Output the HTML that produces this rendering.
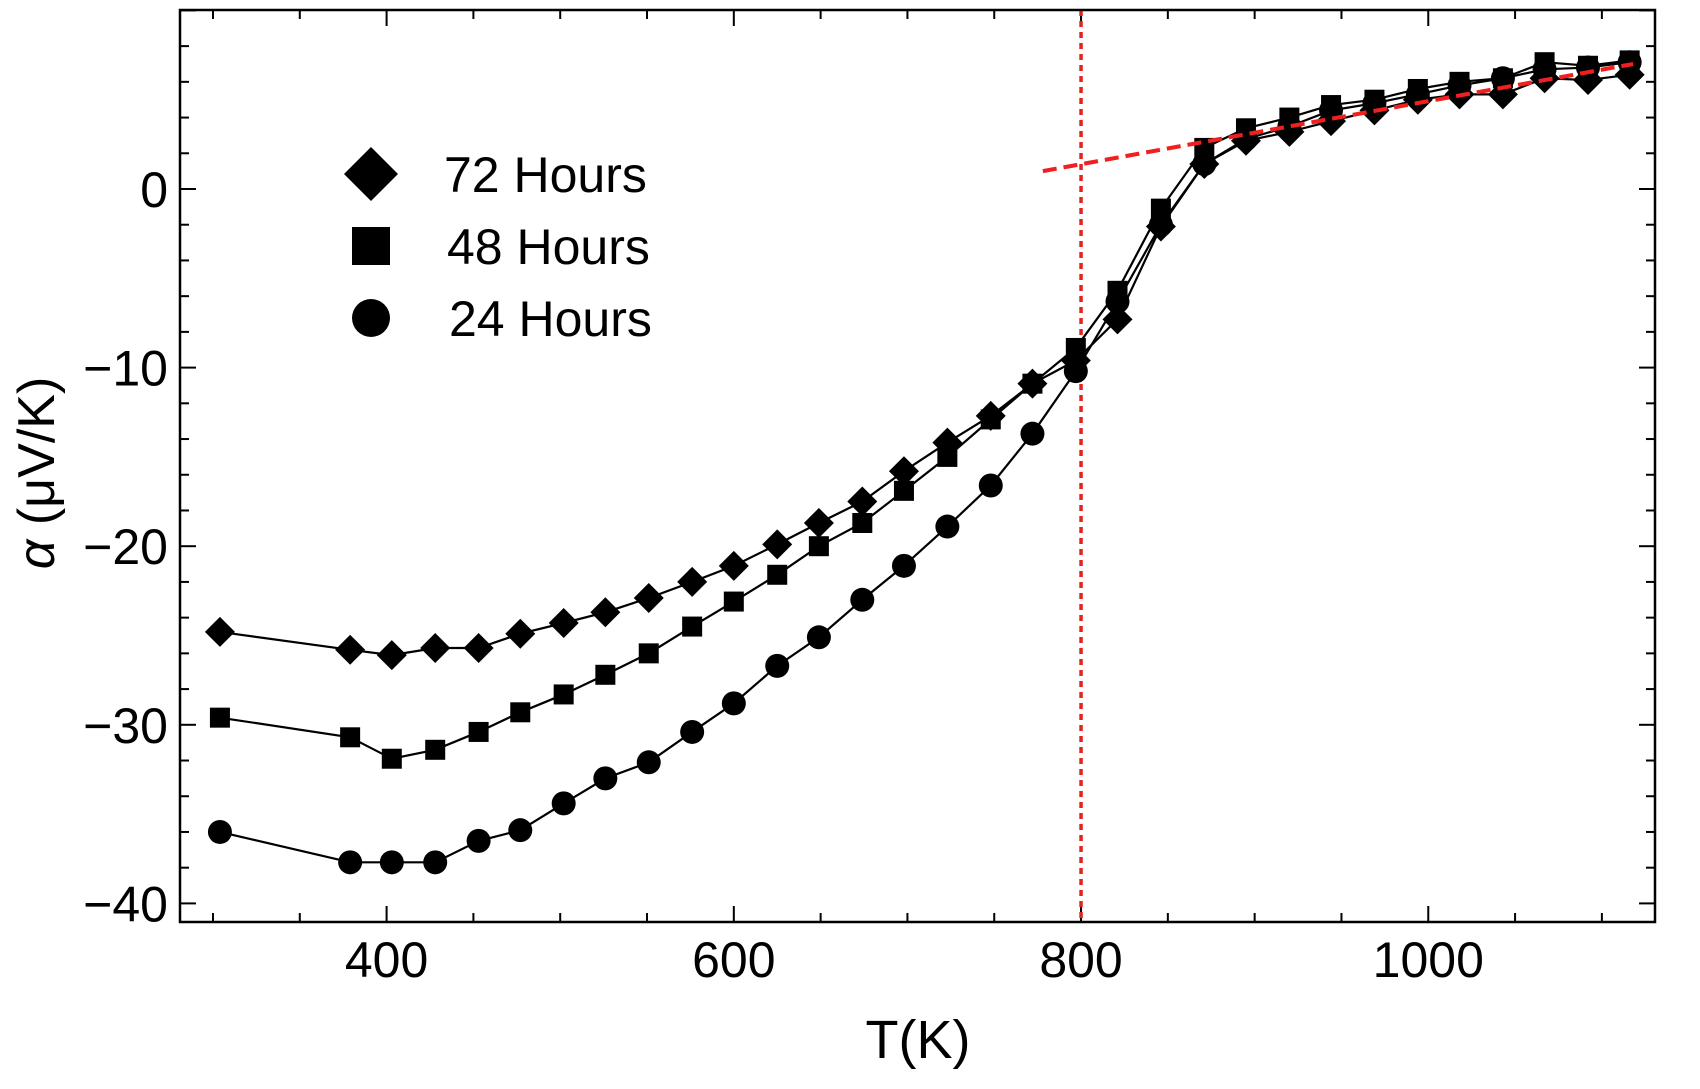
<!DOCTYPE html>
<html><head><meta charset="utf-8"><style>
html,body{margin:0;padding:0;background:#fff;}
svg{display:block;font-family:"Liberation Sans",sans-serif;}
</style></head><body>
<svg id="chart" width="1700" height="1089" viewBox="0 0 1700 1089" xmlns="http://www.w3.org/2000/svg">
<g id="grid-ticks"></g>
<g id="refs"></g>
<g id="series"></g>
<rect x="180" y="10" width="1475" height="912" fill="none" stroke="#000" stroke-width="2.5"/>
<g id="labels" font-size="50"></g>
<text x="918" y="1058" font-size="54" text-anchor="middle">T(K)</text>
<text transform="translate(54,473) rotate(-90)" font-size="52" text-anchor="middle"><tspan font-style="italic">α</tspan> (μV/K)</text>
<g id="legend" font-size="50"></g>
</svg>
<script>
const temps = [304,379,403,428,453,477,502,526,551,576,600,625,649,674,698,723,748,772,797,821,846,871,895,920,944,969,994,1018,1043,1067,1092,1116];
const h72 = [-24.8,-25.8,-26.1,-25.7,-25.7,-24.9,-24.3,-23.7,-22.9,-22.0,-21.1,-19.9,-18.7,-17.5,-15.8,-14.2,-12.7,-10.9,-9.6,-7.3,-2.1,1.4,2.7,3.2,3.8,4.4,5.0,5.3,5.3,6.2,6.1,6.4];
const h48 = [-29.6,-30.7,-31.9,-31.4,-30.4,-29.3,-28.3,-27.2,-26.0,-24.5,-23.1,-21.6,-20.0,-18.7,-16.9,-15.0,-12.9,-10.9,-8.9,-5.7,-1.1,2.3,3.4,4.0,4.7,5.0,5.6,6.0,6.2,7.1,6.9,7.2];
const h24 = [-36.0,-37.7,-37.7,-37.7,-36.5,-35.9,-34.4,-33.0,-32.1,-30.4,-28.8,-26.7,-25.1,-23.0,-21.1,-18.9,-16.6,-13.7,-10.2,-6.3,-2.0,1.4,2.8,3.5,4.4,4.8,5.3,5.8,6.2,6.7,6.8,7.1];
const xTicks = [400,600,800,1000];
const yTicks = [0,-10,-20,-30,-40];
const vLineT = [800];
const fitT = [778,1118];
const fitV = [1.0,7.0];

const NS="http://www.w3.org/2000/svg";
const X0=180,X1=1655,T0=281,T1=1130.6;
function xs(t){return X0+(t-T0)/(T1-T0)*(X1-X0);}
function ys(v){return 189-v*17.86;}
function mk(tag,attrs,parent){const e=document.createElementNS(NS,tag);for(const k in attrs)e.setAttribute(k,attrs[k]);parent.appendChild(e);return e;}

const tg=document.getElementById('grid-ticks');
for(let t=300;t<=1100;t+=50){
  const L=(t%200===0)?16:9;
  let e=mk('line',{x1:xs(t),x2:xs(t),y1:922,y2:922-L,stroke:'#000','stroke-width':2},tg);
  
  
  e=mk('line',{x1:xs(t),x2:xs(t),y1:10,y2:10+L,stroke:'#000','stroke-width':2},tg);
  
  
}
for(let v=-40;v<=10;v+=2){
  const L=(v%10===0)?16:9;
  let e=mk('line',{x1:180,x2:180+L,y1:ys(v),y2:ys(v),stroke:'#000','stroke-width':2},tg);
  
  
  e=mk('line',{x1:1655,x2:1655-L,y1:ys(v),y2:ys(v),stroke:'#000','stroke-width':2},tg);
  
  
}
const lg=document.getElementById('labels');
xTicks.forEach(t=>{const e=mk('text',{x:xs(t),y:977,'text-anchor':'middle'},lg);e.textContent=t;
  
  });
yTicks.forEach(v=>{const e=mk('text',{x:168,y:ys(v)+18,'text-anchor':'end'},lg);e.textContent=(v<0?'−':'')+Math.abs(v);
  
  });

const rg=document.getElementById('refs');
vLineT.forEach(t=>{const e=mk('line',{x1:xs(t),x2:xs(t),y1:10,y2:922,stroke:'#e8201e','stroke-width':3.5,'stroke-dasharray':'6 5'},rg);
  
  });

const sg=document.getElementById('series');
function marker(shape,cx,cy,s,parent){
  if(shape==='d') return mk('polygon',{points:`${cx},${cy-s} ${cx+s},${cy} ${cx},${cy+s} ${cx-s},${cy}`,fill:'#000'},parent);
  if(shape==='s') return mk('rect',{x:cx-s,y:cy-s,width:2*s,height:2*s,fill:'#000'},parent);
  return mk('circle',{cx:cx,cy:cy,r:s,fill:'#000'},parent);
}
const sets=[[h24,'c',12,'series-24h'],[h48,'s',10,'series-48h'],[h72,'d',15,'series-72h']];
sets.forEach(([vals,shape,sz,name])=>{
  const g=mk('g',{},sg);
  
  
  const p=mk('polyline',{points:temps.map((t,i)=>xs(t)+','+ys(vals[i])).join(' '),fill:'none',stroke:'#000','stroke-width':2.2},g);
  
  
  temps.forEach((t,i)=>{const m=marker(shape,xs(t),ys(vals[i]),sz,g);
    
    });
});
const fit=mk('line',{x1:xs(fitT[0]),y1:ys(fitV[0]),x2:xs(fitT[1]),y2:ys(fitV[1]),stroke:'#f0201e','stroke-width':4,'stroke-dasharray':'14 7'},rg.parentNode);



const leg=document.getElementById('legend');
const items=[['d','72 Hours',174,27,444],['s','48 Hours',246,19,447],['c','24 Hours',318,19,449]];
items.forEach(([shape,label,y,s,tx])=>{
  const g=mk('g',{},leg);
  
  
  const m=marker(shape,371,y,s,g);
  
  
  const t=mk('text',{x:tx,y:y+18},g);t.textContent=label;
  
  
});
</script>
</body></html>
